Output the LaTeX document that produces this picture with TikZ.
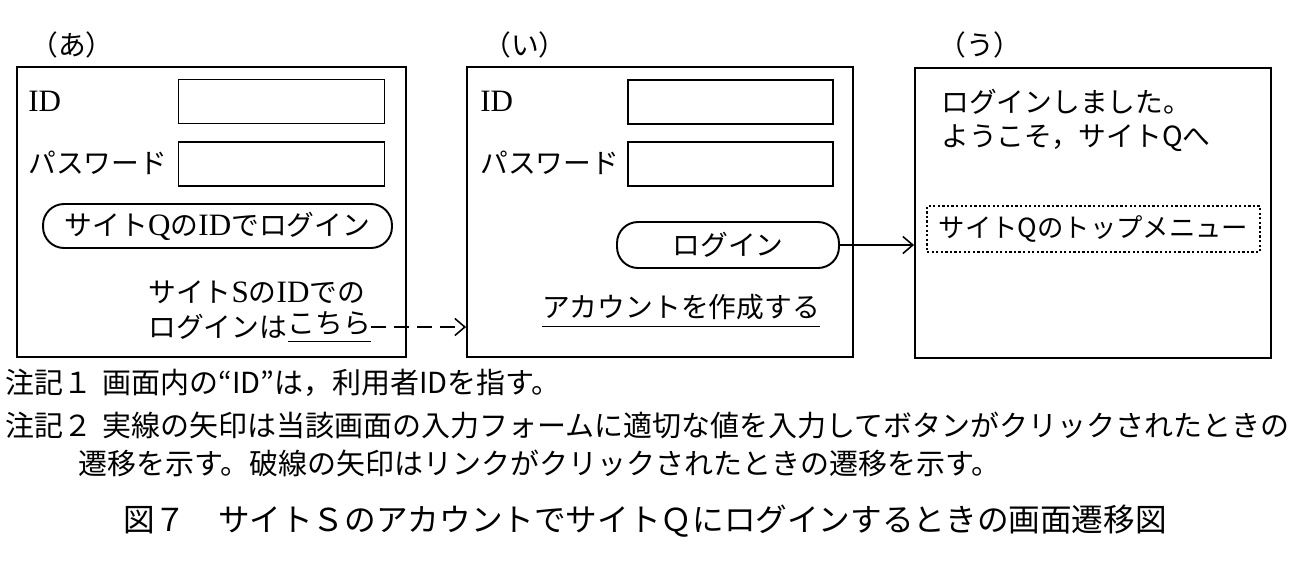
\documentclass[tikz,border=0pt]{standalone}
\usepackage{fontspec}
\setmainfont{Noto Sans CJK JP}
\newfontfamily\latinserif[Scale=1.12]{Liberation Serif}
\usetikzlibrary{arrows.meta}
\newcommand{\lat}[1]{{\latinserif #1}}
\newcommand{\linkline}[1]{\underline{#1\rule[-0.22em]{0pt}{0pt}}}

\begin{document}
\begin{tikzpicture}[x=0.02cm,y=-0.02cm,
    screen/.style={draw, line width=1.1pt, inner sep=0pt},
    field/.style={draw, line width=1.1pt, minimum width=4.12cm, minimum height=0.88cm, inner sep=0pt},
    btn/.style={draw, line width=1.1pt, rounded corners=0.42cm, inner sep=0pt},
    lbl/.style={inner sep=0pt, font=\fontsize{15.8}{19}\selectfont},
    note/.style={anchor=west, inner sep=0pt, font=\fontsize{16.5}{20}\selectfont},
    flow/.style={line width=0.9pt, -{Straight Barb[length=0.2cm, width=0.34cm, line width=0.9pt]}}]
  \useasboundingbox (0,0) rectangle (1308,562);

  \node[lbl] (ta) at (72,45) {（あ）};
  \node[lbl] (tb) at (525,45) {（い）};
  \node[lbl] (tc) at (980,45) {（う）};

  \node[screen, minimum width=7.78cm, minimum height=5.8cm] (sa) at (211.5,212) {};
  \node[screen, minimum width=7.72cm, minimum height=5.8cm] (sb) at (660,212) {};
  \node[screen, minimum width=7.12cm, minimum height=5.8cm] (sc) at (1093,213) {};

  \node[lbl, anchor=west] (ida) at (28,101) {\lat{ID}};
  \node[lbl, anchor=west] (pwa) at (28,163) {パスワード};
  \node[field] (fida) at (281.5,101.5) {};
  \node[field] (fpwa) at (281.5,164) {};
  \node[btn, minimum width=6.98cm, minimum height=0.88cm] (loga) at (217.5,226) {};
  \node[lbl] at (loga) {サイト\lat{Q}の\lat{ID}でログイン};
  \node[lbl, anchor=west] (linka) at (148,292) {サイト\lat{S}の\lat{ID}での};
  \node[lbl, anchor=west] (linkb) at (148,327) {ログインは};
  \node[lbl, anchor=west] (kochira) at (linkb.east) {\linkline{こちら}};

  \node[lbl, anchor=west] (idb) at (480,101) {\lat{ID}};
  \node[lbl, anchor=west] (pwb) at (480,163) {パスワード};
  \node[field, minimum width=4.1cm] (fidb) at (730.5,102) {};
  \node[field, minimum width=4.1cm] (fpwb) at (730.5,164) {};
  \node[btn, minimum width=4.44cm, minimum height=0.92cm] (logb) at (728,245) {};
  \node[lbl] at (logb) {ログイン};
  \node[lbl] (acct) at (681,311) {\linkline{アカウントを作成する}};

  \node[lbl, anchor=west] (msga) at (941,102) {ログインしました。};
  \node[lbl, anchor=west] (msgb) at (941,138) {ようこそ，サイトQへ};
  \node[draw, line width=1.1pt, dash pattern=on 1.3pt off 1.3pt, minimum width=6.66cm, minimum height=0.92cm, inner sep=0pt] (menu) at (1093.5,229) {};
  \node[lbl, font=\fontsize{15}{18}\selectfont] at (menu) {サイトQのトップメニュー};

  \draw[flow, dash pattern=on 0.3cm off 0.16cm] (kochira.east) -- (kochira.east -| sb.west);
  \draw[flow] (logb.east) -- (logb.east -| sc.west);

  \node[note] (n1) at (5,383) {注記１\hspace{0.35em}画面内の“ID”は，利用者IDを指す。};
  \node[note] (n2) at (5,425) {注記２\hspace{0.35em}実線の矢印は当該画面の入力フォームに適切な値を入力してボタンがクリックされたときの};
  \node[note] (n3) at (78,463) {遷移を示す。破線の矢印はリンクがクリックされたときの遷移を示す。};
  \node[inner sep=0pt, font=\fontsize{18}{22}\selectfont] (cap) at (645,521) {図７　サイトＳのアカウントでサイトＱにログインするときの画面遷移図};
\end{tikzpicture}
\end{document}
